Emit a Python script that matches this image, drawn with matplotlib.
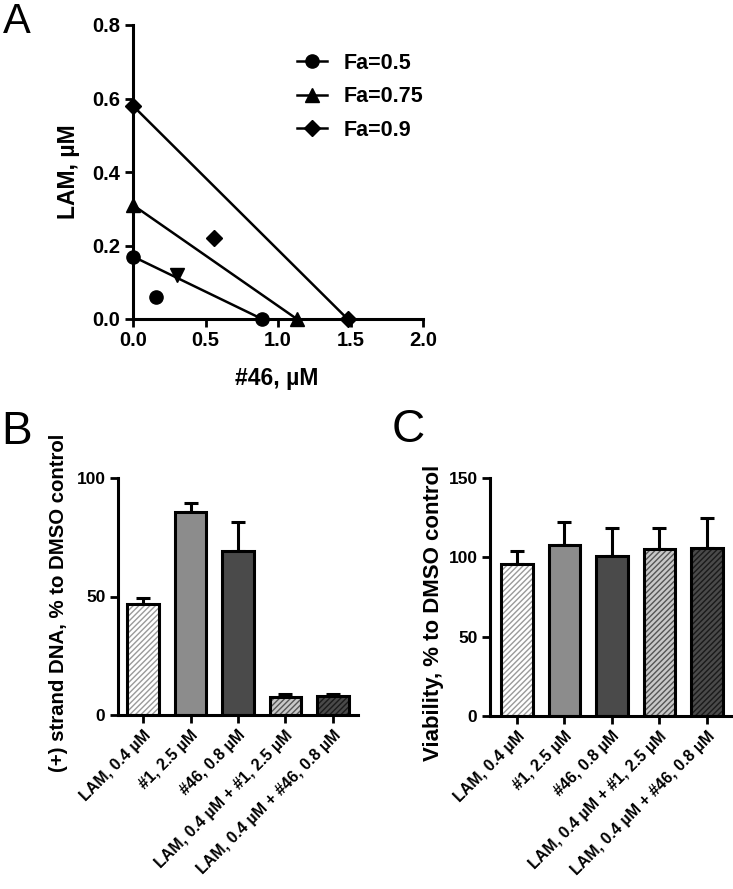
import matplotlib
matplotlib.use("Agg")
import matplotlib.pyplot as plt
from matplotlib.lines import Line2D

plt.rcParams['font.family'] = ['Liberation Sans', 'DejaVu Sans']
plt.rcParams['font.weight'] = 'bold'
plt.rcParams['hatch.linewidth'] = 1.0

# ---------------- Data ----------------
# Panel A: isobologram
fa_labels = ["Fa=0.5", "Fa=0.75", "Fa=0.9"]
fa_markers = ["o", "^", "D"]
iso_x = [[0.0, 0.89], [0.0, 1.13], [0.0, 1.48]]
iso_y = [[0.17, 0.0], [0.31, 0.0], [0.58, 0.0]]
combo_x = [0.16, 0.30, 0.56]
combo_y = [0.06, 0.12, 0.22]
combo_markers = ["o", "v", "D"]

# Panels B and C
categories = ["LAM, 0.4 µM", "#1, 2.5 µM", "#46, 0.8 µM",
              "LAM, 0.4 µM + #1, 2.5 µM", "LAM, 0.4 µM + #46, 0.8 µM"]
dna_vals = [46.7, 85.7, 69.0, 7.7, 8.2]
dna_errs = [2.6, 3.8, 12.6, 1.1, 0.8]
via_vals = [95.8, 107.7, 100.8, 105.2, 106.0]
via_errs = [8.2, 14.3, 17.7, 13.3, 19.0]

bar_face = ["white", "#8c8c8c", "#4a4a4a", "#c8c8c8", "#4a4a4a"]
bar_hatch = ["//////", None, None, "//////", "//////"]
bar_hcol = ["#9a9a9a", None, None, "#555555", "#1a1a1a"]

W, H = 733, 889
fig = plt.figure(figsize=(W / 100, H / 100), dpi=100)


def px_axes(left, right, top, bottom):
    return fig.add_axes([left / W, 1 - bottom / H, (right - left) / W, (bottom - top) / H])


def ptext(x, y, s, **kw):
    return fig.text(x / W, 1 - y / H, s, **kw)


def style(ax, fs):
    for s in ["top", "right"]:
        ax.spines[s].set_visible(False)
    for s in ["left", "bottom"]:
        ax.spines[s].set_linewidth(2.2)
    ax.tick_params(width=2, length=6, labelsize=fs, direction='out', pad=3)
    for lab in ax.get_xticklabels() + ax.get_yticklabels():
        lab.set_fontweight('bold')


# ---------------- Panel A ----------------
axA = px_axes(133, 423, 25, 319)
ms_map = {"o": 9.5, "^": 10, "v": 10, "D": 8.5}
for i in range(3):
    axA.plot(iso_x[i], iso_y[i], color='black', lw=1.8, marker=fa_markers[i],
             ms=ms_map[fa_markers[i]], clip_on=False, zorder=3)
for i in range(3):
    axA.plot([combo_x[i]], [combo_y[i]], linestyle='none', marker=combo_markers[i],
             color='black', ms=ms_map[combo_markers[i]], clip_on=False, zorder=3)
axA.set_xlim(0, 2.0)
axA.set_ylim(0, 0.8)
axA.set_xticks([0.0, 0.5, 1.0, 1.5, 2.0])
axA.set_yticks([0.0, 0.2, 0.4, 0.6, 0.8])
axA.set_xticklabels(["0.0", "0.5", "1.0", "1.5", "2.0"])
axA.set_yticklabels(["0.0", "0.2", "0.4", "0.6", "0.8"])
style(axA, 14.5)
ptext(277, 379, "#46, µM", fontsize=16.5, fontweight='bold', ha='center', va='center')
ptext(69, 172, "LAM, µM", fontsize=16.5, fontweight='bold', ha='center', va='center',
      rotation=90)
handles = [Line2D([0], [0], color='black', lw=1.8, marker=m, ms=ms_map[m])
           for m in fa_markers]
leg_fs = 15.5
axA.legend(handles, fa_labels, loc='upper left',
           bbox_to_anchor=((297 - 133) / 290, 1 - (53 - 25) / 294),
           frameon=False, handlelength=1.4, handletextpad=0.75,
           labelspacing=0.58, borderaxespad=0, borderpad=0,
           prop={'weight': 'bold', 'size': leg_fs})
ptext(3, 2, "A", fontsize=30, fontweight='normal', va='top', ha='left')


def bar_panel(ax, vals, errs):
    x = list(range(len(vals)))
    for i in x:
        if bar_hatch[i]:
            ax.bar(i, vals[i], width=0.66, color=bar_face[i], edgecolor=bar_hcol[i],
                   hatch=bar_hatch[i], linewidth=0, zorder=2)
        else:
            ax.bar(i, vals[i], width=0.66, color=bar_face[i], linewidth=0, zorder=2)
        ax.bar(i, vals[i], width=0.66, fill=False, edgecolor='black', linewidth=2.2, zorder=3)
        ax.errorbar(i, vals[i], yerr=[[0], [errs[i]]], fmt='none', ecolor='black',
                    elinewidth=2.2, capsize=5, capthick=2.2, zorder=1)
    ax.set_xticks(x)
    ax.set_xticklabels(categories, rotation=45, ha='right', rotation_mode='anchor',
                       fontsize=11.5, fontweight='bold')


# ---------------- Panel B ----------------
axB = px_axes(118, 358, 478, 715)
bar_panel(axB, dna_vals, dna_errs)
axB.set_xlim(-0.53, 4.53)
axB.set_ylim(0, 100)
axB.set_yticks([0, 50, 100])
style(axB, 12.5)
for lab in axB.get_xticklabels():
    lab.set_fontsize(11.5)
ptext(59, 603, "(+) strand DNA, % to DMSO control", fontsize=14.7, fontweight='bold',
      ha='center', va='center', rotation=90)
ptext(1, 410, "B", fontsize=33, fontweight='normal', va='top', ha='left')

# ---------------- Panel C ----------------
axC = px_axes(490, 732, 478, 716)
bar_panel(axC, via_vals, via_errs)
axC.set_xlim(-0.57, 4.53)
axC.set_ylim(0, 150)
axC.set_yticks([0, 50, 100, 150])
style(axC, 12.5)
for lab in axC.get_xticklabels():
    lab.set_fontsize(11.5)
ptext(433, 613, "Viability, % to DMSO control", fontsize=16, fontweight='bold',
      ha='center', va='center', rotation=90)
ptext(392, 408, "C", fontsize=33, fontweight='normal', va='top', ha='left')

fig.savefig("out.png", dpi=100)
